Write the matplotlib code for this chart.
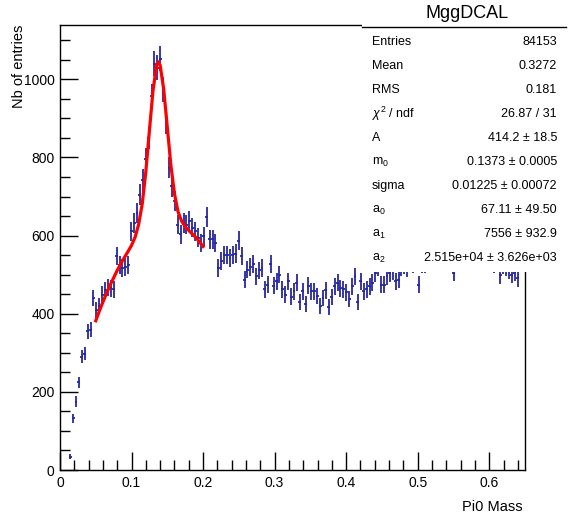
import numpy as np
import matplotlib
matplotlib.use("Agg")
import matplotlib.pyplot as plt
from matplotlib.ticker import MultipleLocator, FuncFormatter
from matplotlib.patches import Rectangle
from matplotlib.lines import Line2D

plt.rcParams['font.family'] = ['Liberation Sans', 'DejaVu Sans']
plt.rcParams['mathtext.fontset'] = 'custom'
plt.rcParams['mathtext.rm'] = 'Liberation Sans'
plt.rcParams['mathtext.it'] = 'Liberation Sans:italic'

# histogram: 160 bins from 0 to 0.65
bin_edges = np.linspace(0, 0.65, 161)
counts = [
    0, 0, 0, 34, 133, 175, 224, 290, 298, 355,
    359, 440, 410, 419, 449, 461, 467, 465, 463, 547,
    525, 517, 520, 525, 611, 632, 658, 705, 742, 795,
    850, 957, 1040, 1030, 1053, 974, 890, 774, 726, 688,
    628, 603, 633, 628, 637, 620, 611, 594, 581, 598,
    648, 590, 590, 581, 517, 534, 551, 551, 543, 550,
    554, 587, 547, 487, 513, 520, 527, 496, 511, 517,
    462, 474, 527, 472, 483, 500, 462, 449, 483, 444,
    457, 479, 431, 457, 426, 472, 457, 457, 445, 421,
    440, 460, 417, 443, 470, 479, 465, 462, 455, 438,
    470, 496, 431, 483, 457, 462, 470, 479, 504, 520,
    474, 474, 496, 504, 510, 483, 487, 520, 525, 518,
    540, 527, 540, 474, 528, 526, 545, 550, 540, 555,
    535, 548, 560, 545, 538, 505, 545, 552, 540, 560,
    548, 555, 542, 550, 565, 545, 558, 547, 552, 527,
    540, 498, 525, 520, 512, 500, 505, 491, 530, 540,
]

# fit curve
fit_x = [0.05, 0.055, 0.06, 0.065, 0.07, 0.075, 0.08, 0.085, 0.09, 0.095,
         0.1, 0.105, 0.11, 0.115, 0.12, 0.125, 0.13, 0.135, 0.1375, 0.14,
         0.145, 0.15, 0.155, 0.16, 0.165, 0.17, 0.175, 0.18, 0.185, 0.19,
         0.195, 0.2]
fit_y = [382, 407, 430, 452, 473, 492, 511, 528, 544, 559,
         575, 596, 629, 682, 764, 869, 971, 1036, 1045, 1036,
         974, 877, 780, 707, 661, 637, 623, 613, 604, 595,
         584, 572]

stat_labels = ["Entries", "Mean", "RMS", r"$\chi^{2}$ / ndf", "A",
               r"$\mathrm{m}_{0}$", "sigma", r"$\mathrm{a}_{0}$",
               r"$\mathrm{a}_{1}$", r"$\mathrm{a}_{2}$"]
stat_values = ["84153", "0.3272", "0.181", "26.87 / 31", "414.2 ± 18.5",
               "0.1373 ± 0.0005", "0.01225 ± 0.00072", "67.11 ± 49.50",
               "7556 ± 932.9", "2.515e+04 ± 3.626e+03"]

W, H = 568, 519
fig = plt.figure(figsize=(W / 100, H / 100), dpi=100)
ax = fig.add_axes([60 / W, 1 - 470 / H, 465 / W, 445 / H])

centers = 0.5 * (bin_edges[1:] + bin_edges[:-1])
counts = np.array(counts, dtype=float)
width = bin_edges[1] - bin_edges[0]
m = counts > 0
ax.errorbar(centers[m], counts[m], yerr=np.sqrt(counts[m]), xerr=width / 2,
            fmt='none', ecolor='#2626a0', elinewidth=1.3, capsize=0)
ax.plot(fit_x, fit_y, color='red', lw=2.3)

ax.set_xlim(0, 0.65)
ax.set_ylim(0, 1139)
ax.xaxis.set_major_locator(MultipleLocator(0.1))
ax.xaxis.set_minor_locator(MultipleLocator(0.02))
ax.yaxis.set_major_locator(MultipleLocator(200))
ax.yaxis.set_minor_locator(MultipleLocator(50))
ax.xaxis.set_major_formatter(FuncFormatter(lambda v, p: "0" if abs(v) < 1e-9 else f"{v:.1f}"))
ax.tick_params(which='major', direction='in', length=13, width=1, labelsize=10, pad=4)
ax.tick_params(which='minor', direction='in', length=7, width=1)
ax.tick_params(top=False, right=False, which='both')
for s in ax.spines.values():
    s.set_linewidth(1)

fig.text(19 / W, 1 - 25 / H, "Nb of entries", rotation=90, ha='center', va='top', fontsize=10.5)
fig.text(523 / W, 1 - 507 / H, "Pi0 Mass", ha='right', va='center', fontsize=10.5)

# stats box
fig.patches.append(Rectangle((362 / W, 1 - 272 / H), (W - 362) / W, 272 / H,
                             transform=fig.transFigure, facecolor='white',
                             edgecolor='none', zorder=5))
fig.lines.append(Line2D([362 / W, 566 / W], [1 - 27 / H, 1 - 27 / H],
                        transform=fig.transFigure, color='black', lw=1, zorder=6))
fig.text(467 / W, 1 - 14 / H, "MggDCAL", ha='center', va='center', fontsize=13, zorder=7)
for k, (lab, val) in enumerate(zip(stat_labels, stat_values)):
    y = 1 - (42 + 24 * k) / H
    fig.text(372 / W, y, lab, ha='left', va='center', fontsize=9, zorder=7)
    fig.text(557 / W, y, val, ha='right', va='center', fontsize=9, zorder=7)

fig.savefig("out.png", dpi=100)
